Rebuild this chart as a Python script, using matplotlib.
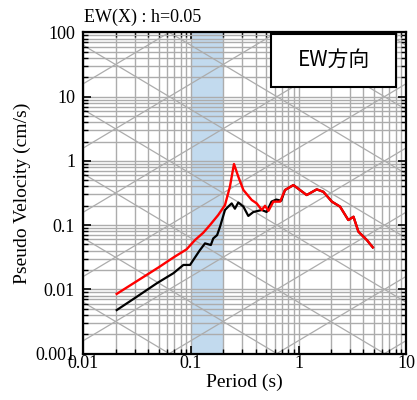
import numpy as np
import matplotlib
matplotlib.use("Agg")
import matplotlib.pyplot as plt
from matplotlib.patches import Rectangle
from matplotlib.ticker import LogLocator, FixedFormatter, FixedLocator, NullFormatter

# Pseudo-velocity response spectra (h = 0.05)
T_RED = [0.0204, 0.03, 0.05, 0.07, 0.091, 0.109, 0.13, 0.150, 0.179, 0.207,
         0.23, 0.251, 0.275, 0.307, 0.367, 0.408, 0.455, 0.488, 0.525, 0.583,
         0.673, 0.748, 0.895, 1.03, 1.19, 1.475, 1.70, 2.04, 2.43, 2.9,
         3.24, 3.6, 4.31, 4.9]
V_RED = [0.0085, 0.0128, 0.022, 0.032, 0.042, 0.0586, 0.076, 0.10, 0.1436, 0.205,
         0.396, 0.895, 0.57, 0.352, 0.246, 0.218, 0.172, 0.20, 0.167, 0.232,
         0.232, 0.352, 0.42, 0.352, 0.294, 0.36, 0.33, 0.232, 0.194, 0.12,
         0.135, 0.079, 0.0586, 0.045]

T_BLK = [0.0204, 0.03, 0.048, 0.0685, 0.085, 0.098, 0.105, 0.12, 0.135, 0.153,
         0.161, 0.175, 0.186, 0.207, 0.222, 0.239, 0.256, 0.275, 0.307, 0.341,
         0.38, 0.455, 0.505, 0.56, 0.62, 0.69, 0.748, 0.895, 1.03, 1.19,
         1.475, 1.70, 2.04, 2.43, 2.9, 3.24, 3.6, 4.31, 4.9]
V_BLK = [0.00476, 0.0073, 0.0124, 0.0178, 0.024, 0.024, 0.0286, 0.040, 0.052, 0.049,
         0.062, 0.070, 0.094, 0.172, 0.194, 0.218, 0.18, 0.225, 0.194, 0.139,
         0.16, 0.172, 0.16, 0.232, 0.25, 0.24, 0.352, 0.42, 0.352, 0.294,
         0.36, 0.33, 0.232, 0.194, 0.12, 0.135, 0.079, 0.0586, 0.045]

BAND = (0.1, 0.2)
X_TICKS = [0.01, 0.1, 1, 10]
X_LABELS = ["0.01", "0.1", "1", "10"]
Y_TICKS = [0.001, 0.01, 0.1, 1, 10, 100]
Y_LABELS = ["0.001", "0.01", "0.1", "1", "10", "100"]
DECADES = [10.0 ** k for k in range(-6, 7)]  # constant D (cm) and A (gal) lines

plt.rcParams["font.family"] = ["Liberation Serif", "DejaVu Serif"]
plt.rcParams["font.size"] = 13

fig = plt.figure(figsize=(4.17, 4.0), dpi=100)
ax = fig.add_axes([0.200, 0.116, 0.774, 0.803])
ax.set_xscale("log")
ax.set_yscale("log")
ax.set_xlim(0.01, 10)
ax.set_ylim(0.001, 100)

grid_c = "#acacac"
ax.axvspan(*BAND, color="#c2daee", zorder=0.5, lw=0)

# tripartite diagonals
tt = np.array([0.01, 10.0])
for d in DECADES:
    ax.plot(tt, 2 * np.pi * d / tt, color=grid_c, lw=0.9, zorder=1)
    ax.plot(tt, d * tt / (2 * np.pi), color=grid_c, lw=0.9, zorder=1)

ax.xaxis.set_major_locator(FixedLocator(X_TICKS))
ax.xaxis.set_major_formatter(FixedFormatter(X_LABELS))
ax.yaxis.set_major_locator(FixedLocator(Y_TICKS))
ax.yaxis.set_major_formatter(FixedFormatter(Y_LABELS))
ax.xaxis.set_minor_locator(LogLocator(base=10, subs=np.arange(2, 10), numticks=20))
ax.yaxis.set_minor_locator(LogLocator(base=10, subs=np.arange(2, 10), numticks=20))
ax.xaxis.set_minor_formatter(NullFormatter())
ax.yaxis.set_minor_formatter(NullFormatter())
ax.grid(True, which="both", color=grid_c, lw=1.0, zorder=1)

ax.plot(T_BLK, V_BLK, color="black", lw=1.6, zorder=3)
ax.plot(T_RED, V_RED, color="#ff0000", lw=1.7, zorder=4)

ax.tick_params(which="both", direction="in", top=True, right=True, labelsize=13)
ax.tick_params(which="major", length=6, width=1.2)
ax.tick_params(which="minor", length=3.5, width=1.0)
ax.tick_params(axis="x", pad=1)
ax.tick_params(axis="y", pad=6)
for s in ax.spines.values():
    s.set_linewidth(1.6)

ax.set_xlabel("Period (s)", fontsize=14, labelpad=1)
ax.set_ylabel("Pseudo Velocity (cm/s)", fontsize=14, labelpad=3)

ax.add_patch(Rectangle((0.581, 0.830), 0.388, 0.165, transform=ax.transAxes,
                       facecolor="white", edgecolor="black", lw=1.5, zorder=6))
ax.text(0.775, 0.913, "EW方向", transform=ax.transAxes, ha="center", va="center",
        fontsize=15, family=["Noto Sans CJK JP", "DejaVu Sans"], zorder=7)

fig.text(84 / 417, 1 - 17 / 400, "EW(X) : h=0.05", ha="left", va="center", fontsize=13)

fig.savefig("out.png", dpi=100, facecolor="white")
